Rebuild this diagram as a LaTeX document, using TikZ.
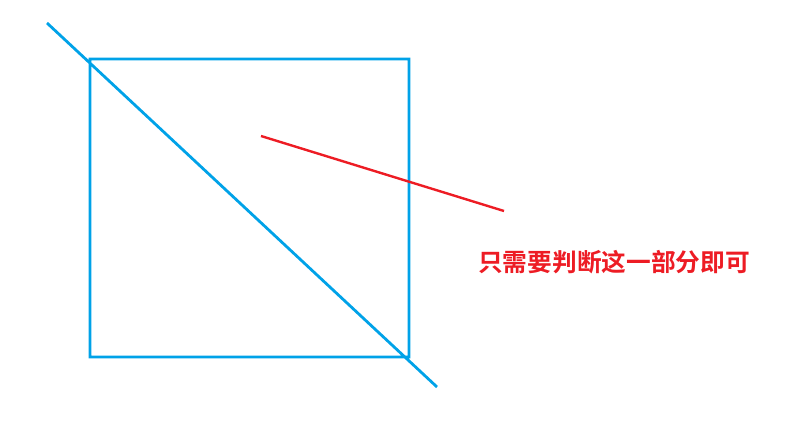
\documentclass[tikz,border=0pt]{standalone}
\usepackage{fontspec}
\newfontfamily\cjk{Noto Sans CJK SC}[BoldFont={Noto Sans CJK SC Bold}]
\definecolor{paintblue}{RGB}{0,162,232}
\definecolor{paintred}{RGB}{237,28,36}
\begin{document}
\begin{tikzpicture}[x=1pt,y=-1pt, blueline/.style={paintblue,line width=2.8pt}, redline/.style={paintred,line width=2.4pt}]
\useasboundingbox (0,0) rectangle (808,436);
\coordinate (sq1) at (90,59); \coordinate (sq2) at (409,357);
\coordinate (d1) at (47,23); \coordinate (d2) at (437,387);
\coordinate (r1) at (261,136); \coordinate (r2) at (504,211);
\draw[blueline] (sq1) rectangle (sq2) (d1)--(d2);
\draw[redline] (r1)--(r2);
\node[anchor=west,inner sep=0pt,text=paintred,font=\cjk\bfseries\fontsize{24.7}{28}\selectfont] (note) at (478,262) {只需要判断这一部分即可};
\end{tikzpicture}
\end{document}
